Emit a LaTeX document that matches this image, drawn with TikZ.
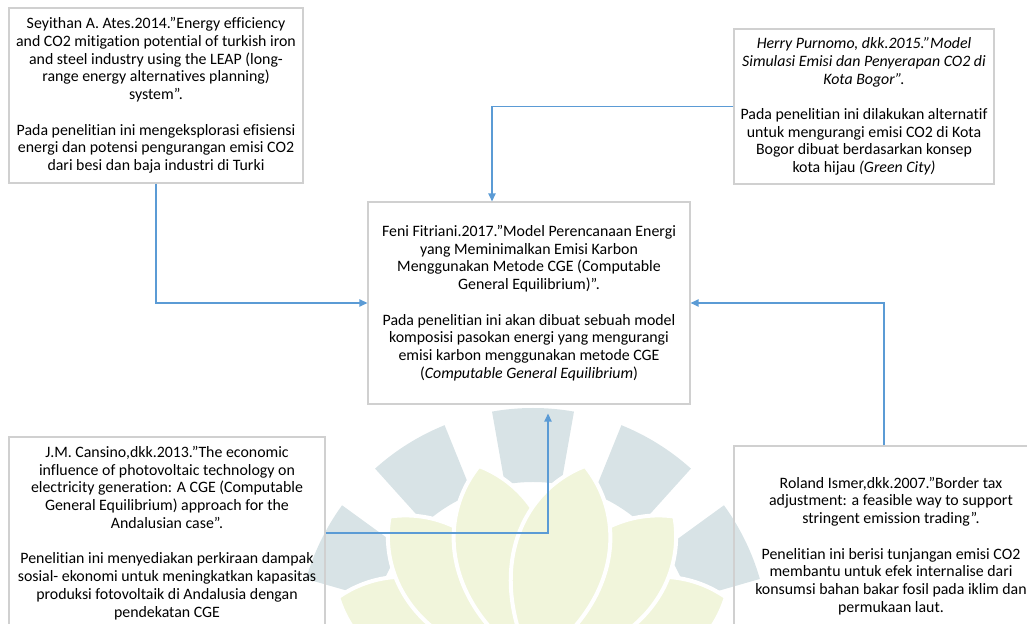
\documentclass[tikz,border=0pt]{standalone}
\usepackage{fontspec}
\setmainfont{Carlito}[Ligatures=NoCommon]
\usetikzlibrary{arrows.meta, positioning, calc}
\definecolor{linkblue}{RGB}{91,155,213}
\definecolor{boxgray}{RGB}{208,208,208}
\definecolor{wmblue}{RGB}{216,227,230}
\definecolor{wmleaf}{RGB}{241,245,219}

\begin{document}
\begin{tikzpicture}[x=0.75pt, y=0.75pt,
  refbox/.style={draw=boxgray, line width=0.9pt, align=center, inner sep=0pt,
    font=\fontsize{11.9}{13.3}\selectfont},
  link/.style={linkblue, line width=1pt, -{Triangle[length=6pt, width=5.5pt]}},
  leaf/.style={fill=wmleaf, draw=white, line width=3pt}]
  \useasboundingbox (0,0) rectangle (1027,624);
  \clip (0,0) rectangle (1027,624);
  % watermark in the background
  \coordinate (wm) at (533,-20);
  \foreach \a in {-96,-64,-32,0,32,64,96}
    \fill[wmblue] ($(wm)+(90+\a-10:162)$) arc[start angle=90+\a-10, end angle=90+\a+10, radius=162]
      -- ($(wm)+(90+\a+10:236)$) arc[start angle=90+\a+10, end angle=90+\a-10, radius=236] -- cycle;
  \coordinate (lb) at (532,-40);
  \foreach \a in {71,-71,44,-44,15,-15}
    \filldraw[leaf, shift={(lb)}, rotate=\a] (0,0) .. controls (-70,80) and (-55,165) .. (0,205)
      .. controls (55,165) and (70,80) .. (0,0);
  % reference boxes
  \node[refbox, minimum width=220.5pt, minimum height=131.25pt] (ates) at (156,528.5)
    {Seyithan A. Ates.2014.”Energy efficiency\\ and CO2 mitigation potential of turkish iron\\
     and steel industry using the LEAP (long-\\ range energy alternatives planning)\\ system”.\\[13.3pt]
     Pada penelitian ini mengeksplorasi efisiensi\\ energi dan potensi pengurangan emisi CO2\\
     dari besi dan baja industri di Turki};
  \node[refbox, minimum width=195pt, minimum height=116.25pt] (purnomo) at (864,517.5)
    {\textit{Herry Purnomo, dkk.2015.”Model}\\ \textit{Simulasi Emisi dan Penyerapan CO2 di}\\
     \textit{Kota Bogor”.}\\[13.3pt]
     Pada penelitian ini dilakukan alternatif\\ untuk mengurangi emisi CO2 di Kota\\
     Bogor dibuat berdasarkan konsep\\ kota hijau \textit{(Green City)}};
  \node[refbox, minimum width=241.5pt, minimum height=151.5pt] (fitriani) at (529,321)
    {Feni Fitriani.2017.”Model Perencanaan Energi\\ yang Meminimalkan Emisi Karbon\\
     Menggunakan Metode CGE (Computable\\ General Equilibrium)”.\\[13.3pt]
     Pada penelitian ini akan dibuat sebuah model\\ komposisi pasokan energi yang mengurangi\\
     emisi karbon menggunakan metode CGE\\ (\textit{Computable General Equilibrium})};
  \node[refbox, minimum width=237pt, minimum height=144pt] (cansino) at (167,91)
    {J.M. Cansino,dkk.2013.”The economic\\ influence of photovoltaic technology on\\
     electricity generation: A CGE (Computable\\ General Equilibrium) approach for the\\
     Andalusian case”.\\[13.3pt]
     Penelitian ini menyediakan perkiraan dampak\\ sosial- ekonomi untuk meningkatkan kapasitas\\
     produksi fotovoltaik di Andalusia dengan\\ pendekatan CGE};
  \node[refbox, minimum width=235.5pt, minimum height=150pt] (ismer) at (891,78)
    {Roland Ismer,dkk.2007.”Border tax\\ adjustment: a feasible way to support\\
     stringent emission trading”.\\[13.3pt]
     Penelitian ini berisi tunjangan emisi CO2\\ membantu untuk efek internalise dari\\
     konsumsi bahan bakar fosil pada iklim dan\\ permukaan laut.};
  % links to the central study
  \draw[link] (ates.south) |- (fitriani.west);
  \draw[link] (purnomo.west) -| ([xshift=-27.75pt]fitriani.north);
  \draw[link, shorten >=6.75pt] (cansino.east) -| ([xshift=14.25pt]fitriani.south);
  \draw[link] ([xshift=-5.25pt]ismer.north) |- (fitriani.east);
\end{tikzpicture}
\end{document}
